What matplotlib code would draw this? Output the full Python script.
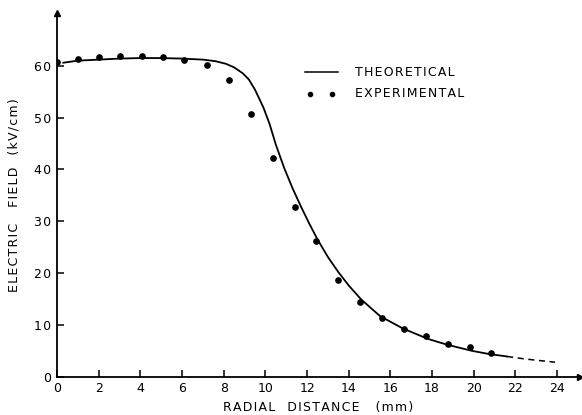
import numpy as np
import matplotlib.pyplot as plt

# experimental points
exp_r = [0.0, 1.0, 2.0, 3.0, 4.1, 5.1, 6.1, 7.2, 8.25, 9.3, 10.35, 11.4,
         12.45, 13.5, 14.55, 15.6, 16.65, 17.7, 18.75, 19.8, 20.85]
exp_e = [60.7, 61.3, 61.7, 61.9, 61.85, 61.7, 61.1, 60.1, 57.3, 50.8, 42.2, 32.8,
         26.1, 18.6, 14.5, 11.3, 9.2, 7.8, 6.4, 5.7, 4.5]

# theoretical curve (solid part)
th_r = [0.3, 1.0, 2.0, 3.0, 4.0, 5.0, 6.0, 7.0, 7.6, 8.1, 8.5, 8.9, 9.2, 9.5,
        9.9, 10.2, 10.5, 10.9, 11.3, 11.7, 12.1, 12.5, 13.0, 13.5, 14.0, 14.6,
        15.5, 16.6, 17.8, 18.7, 19.9, 20.7, 21.6]
th_e = [60.6, 61.0, 61.2, 61.4, 61.5, 61.5, 61.4, 61.2, 60.9, 60.4, 59.7, 58.6, 57.4, 55.4,
        52.0, 48.8, 44.8, 40.3, 36.4, 32.9, 29.6, 26.5, 23.1, 20.2, 17.6, 14.9,
        11.7, 9.3, 7.3, 6.2, 5.0, 4.4, 3.9]

# dashed extrapolation
ext_r = [21.6, 22.5, 23.9]
ext_e = [3.9, 3.4, 2.8]

xticks = [0, 2, 4, 6, 8, 10, 12, 14, 16, 18, 20, 22, 24]
yticks = [0, 10, 20, 30, 40, 50, 60]


def spaced(s):
    # old stencil lettering is widely spaced
    return "\u200a".join(s)


fig = plt.figure(figsize=(5.82, 4.15), dpi=100)
ax = fig.add_axes([0.098, 0.0923, 0.8986, 0.8764])

ax.plot(th_r, th_e, "k-", lw=1.3)
ax.plot(ext_r, ext_e, "k--", lw=1.1, dashes=(4, 3))
ax.plot(exp_r, exp_e, "ko", ms=3.8, ls="none")

ax.set_xlim(0, 25.1)
ax.set_ylim(0, 70.2)
ax.spines["top"].set_visible(False)
ax.spines["right"].set_visible(False)
ax.spines["left"].set_linewidth(1.3)
ax.spines["bottom"].set_linewidth(1.3)

ax.plot(1, 0, ">k", ms=4, transform=ax.get_yaxis_transform(), clip_on=False)
ax.plot(0, 1, "^k", ms=4, transform=ax.get_xaxis_transform(), clip_on=False)

ax.set_xticks(xticks)
ax.set_yticks(yticks)
ax.set_yticklabels([spaced(str(v)) for v in yticks])
ax.tick_params(direction="in", length=5, width=1.1, labelsize=9, pad=4)

ax.set_xlabel(spaced("RADIAL") + "   " + spaced("DISTANCE") + "    " + spaced("(mm)"),
              fontsize=9, labelpad=4)
ax.set_ylabel(spaced("ELECTRIC") + "    " + spaced("FIELD") + "   " + spaced("(kV/cm)"),
              fontsize=9, labelpad=10)

# legend drawn by hand like the original
ax.plot([11.9, 13.5], [58.8, 58.8], "k-", lw=1.1)
ax.plot([12.15, 13.2], [54.6, 54.6], "ko", ms=3, ls="none")
ax.text(14.3, 58.8, spaced("THEORETICAL"), fontsize=9, va="center")
ax.text(14.3, 54.6, spaced("EXPERIMENTAL"), fontsize=9, va="center")

fig.savefig("out.png", dpi=100)
